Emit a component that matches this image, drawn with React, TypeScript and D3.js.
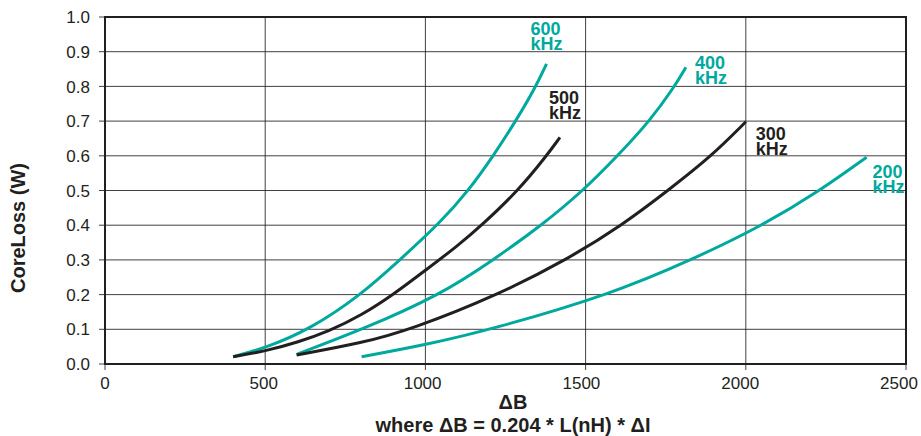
import React from "react";
import * as d3 from "d3";

// ---- data ----
const xTicks = [0, 500, 1000, 1500, 2000, 2500];
const yTicks = [0, 0.1, 0.2, 0.3, 0.4, 0.5, 0.6, 0.7, 0.8, 0.9, 1.0];

const seriesNames = ["600", "500", "400", "300", "200"];

const s600: [number, number][] = [
  [400, 0.021], [500, 0.046], [640, 0.1], [800, 0.2], [920, 0.3],
  [1045, 0.406], [1135, 0.5], [1212, 0.6], [1282, 0.7], [1345, 0.8], [1378, 0.865],
];
const s500: [number, number][] = [
  [400, 0.021], [500, 0.037], [600, 0.062], [700, 0.095], [800, 0.14], [900, 0.2],
  [1000, 0.27], [1100, 0.34], [1176, 0.4], [1290, 0.5], [1378, 0.6], [1420, 0.653],
];
const s400: [number, number][] = [
  [598, 0.028], [805, 0.1], [1048, 0.2], [1212, 0.3], [1363, 0.4],
  [1493, 0.5], [1600, 0.6], [1700, 0.7], [1778, 0.8], [1813, 0.855],
];
const s300: [number, number][] = [
  [598, 0.026], [800, 0.06], [957, 0.1], [1228, 0.2], [1440, 0.3],
  [1614, 0.4], [1757, 0.5], [1894, 0.6], [2000, 0.698],
];
const s200: [number, number][] = [
  [801, 0.021], [1000, 0.055], [1207, 0.1], [1576, 0.2], [1831, 0.3],
  [2054, 0.4], [2232, 0.5], [2377, 0.596],
];
const seriesData = [s600, s500, s400, s300, s200];

// ---- styles ----
const TEAL = "#00A99D";
const DARK = "#231F20";
const seriesColors = [TEAL, DARK, TEAL, DARK, TEAL];
// label offset from the last point of each curve (px)
const labelOffsets: [number, number][] = [
  [-16, -29], [-11, -33], [9, 2], [10, 18], [6, 21],
];

const W = 921;
const H = 436;
const M = { left: 105, right: 906, top: 17, bottom: 364 };
const FONT = "'Liberation Sans', Arial, Helvetica, sans-serif";

export default function App() {
  const x = d3.scaleLinear().domain([0, 2500]).range([M.left, M.right]);
  const xLabel = d3.scaleLinear().domain([0, 2500]).range([M.left, M.right - 7]);
  const y = d3.scaleLinear().domain([0, 1]).range([M.bottom, M.top]);
  const line = d3
    .line<[number, number]>()
    .x((d) => x(d[0]))
    .y((d) => y(d[1]))
    .curve(d3.curveBasis);

  return (
    <svg
      width={W}
      height={H}
      style={{ position: "absolute", left: 0, top: 0, display: "block", background: "#fff" }}
      fontFamily={FONT}
    >
      {/* grid */}
      {yTicks.map((t) => (
        <line key={"gy" + t} x1={M.left - 6} x2={M.right} y1={y(t)} y2={y(t)} stroke={DARK} strokeWidth={1} strokeOpacity={0.85} />
      ))}
      {xTicks.map((t) => (
        <line key={"gx" + t} x1={x(t)} x2={x(t)} y1={M.top} y2={M.bottom + 6} stroke={DARK} strokeWidth={1} strokeOpacity={0.85} />
      ))}
      {/* frame */}
      <rect x={M.left} y={M.top} width={M.right - M.left} height={M.bottom - M.top} fill="none" stroke={DARK} strokeWidth={2} />
      {/* y tick labels */}
      {yTicks.map((t) => (
        <text key={"ly" + t} x={M.left - 15} y={y(t)} dy="0.36em" textAnchor="end" fontSize={17} fill={DARK}>
          {d3.format(".1f")(t)}
        </text>
      ))}
      {/* x tick labels */}
      {xTicks.map((t) => (
        <text key={"lx" + t} x={xLabel(t)} y={389} textAnchor="middle" fontSize={17} fill={DARK}>
          {t}
        </text>
      ))}
      {/* curves */}
      {seriesData.map((s, i) => (
        <path key={"s" + i} d={line(s) || ""} fill="none" stroke={seriesColors[i]} strokeWidth={3} strokeLinecap="butt" />
      ))}
      {/* curve labels */}
      {seriesData.map((s, i) => {
        const last = s[s.length - 1];
        const lx = x(last[0]) + labelOffsets[i][0];
        const ly = y(last[1]) + labelOffsets[i][1];
        return (
          <text key={"cl" + i} x={lx} y={ly} fontSize={18} fontWeight="bold" fill={seriesColors[i]}>
            <tspan x={lx} dy={0}>{seriesNames[i]}</tspan>
            <tspan x={lx} dy={15}>kHz</tspan>
          </text>
        );
      })}
      {/* axis titles */}
      <text x={513} y={409} textAnchor="middle" fontSize={20} fontWeight="bold" fill={DARK}>
        ΔB
      </text>
      <text x={513} y={432} textAnchor="middle" fontSize={20} fontWeight="bold" fill={DARK}>
        where ΔB = 0.204 * L(nH) * ΔI
      </text>
      <text
        transform="translate(25,228) rotate(-90)"
        textAnchor="middle"
        fontSize={20}
        fontWeight="bold"
        fill={DARK}
      >
        CoreLoss (W)
      </text>
    </svg>
  );
}
